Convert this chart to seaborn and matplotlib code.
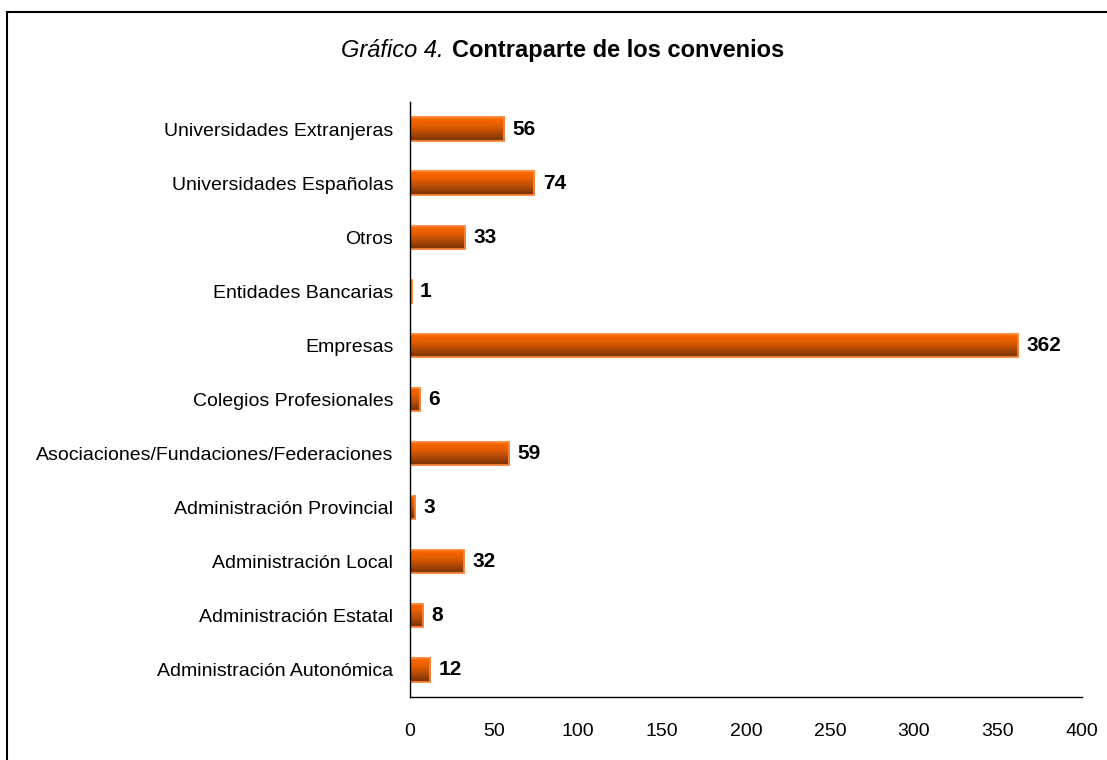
import numpy as np
import pandas as pd
import matplotlib
matplotlib.use("Agg")
import matplotlib.pyplot as plt
import seaborn as sns
from matplotlib.patches import Rectangle

# data (top to bottom as in the chart)
categories = [
    "Universidades Extranjeras",
    "Universidades Españolas",
    "Otros",
    "Entidades Bancarias",
    "Empresas",
    "Colegios Profesionales",
    "Asociaciones/Fundaciones/Federaciones",
    "Administración Provincial",
    "Administración Local",
    "Administración Estatal",
    "Administración Autonómica",
]
values = [56, 74, 33, 1, 362, 6, 59, 3, 32, 8, 12]
x_ticks = [0, 50, 100, 150, 200, 250, 300, 350, 400]

sns.set_style("white")
plt.rcParams["font.family"] = ["Liberation Sans", "DejaVu Sans"]
plt.rcParams["text.color"] = "black"
plt.rcParams["xtick.color"] = "black"
plt.rcParams["ytick.color"] = "black"

df = pd.DataFrame({"contraparte": categories, "convenios": values})

fig = plt.figure(figsize=(11.07, 7.6), dpi=100)
ax = fig.add_axes([0.3704, 0.0829, 0.607, 0.7829])

sns.barplot(data=df, x="convenios", y="contraparte", color="#FF6600",
            width=0.43, edgecolor="#FF8C40", linewidth=1.2, ax=ax)

# vertical gradient fill on each bar: bright orange on top, dark brown below
cmap = matplotlib.colors.LinearSegmentedColormap.from_list(
    "bar", ["#FF6A00", "#E85E00", "#B04A08", "#7A3000"])
grad = np.linspace(0, 1, 64).reshape(-1, 1)
for p in ax.patches:
    x0, y0 = p.get_x(), p.get_y()
    w, h = p.get_width(), p.get_height()
    if w <= 0:
        continue
    im = ax.imshow(grad, cmap=cmap, aspect="auto", origin="upper",
                   extent=[x0, x0 + w, y0 + h, y0], zorder=p.get_zorder() + 0.1,
                   interpolation="bilinear")
    im.set_clip_path(p)
    ax.add_patch(Rectangle((x0, y0), w, h, fill=False, edgecolor="#FF8C40",
                           linewidth=1.2, zorder=p.get_zorder() + 0.2))

for i, v in enumerate(values):
    ax.text(v + 5, i, str(v), va="center", ha="left", fontsize=15,
            fontweight="bold", color="black")

ax.set_xlim(0, 400)
ax.set_ylim(len(categories) - 0.5, -0.5)
ax.set_xticks(x_ticks)
ax.set_xticklabels([str(t) for t in x_ticks], fontsize=14)
ax.set_yticks(range(len(categories)))
ax.set_yticklabels(categories, fontsize=14)
ax.set_xlabel("")
ax.set_ylabel("")

# y ticks sit between categories, both axes ticks point outward
ax.set_yticks(np.arange(-0.5, len(categories), 1), minor=True)
ax.tick_params(axis="y", which="major", length=0, pad=12)
ax.tick_params(axis="y", which="minor", length=6, width=1, color="black", direction="out")
ax.tick_params(axis="x", length=6, width=1, color="black", direction="out", pad=13)

for s in ["top", "right"]:
    ax.spines[s].set_visible(False)
for s in ["left", "bottom"]:
    ax.spines[s].set_color("black")
    ax.spines[s].set_linewidth(1)

# title: italic part + bold part
fig.text(0.401, 0.934, "Gráfico 4.", ha="right", va="center",
         fontsize=17, style="italic")
fig.text(0.408, 0.934, "Contraparte de los convenios", ha="left", va="center",
         fontsize=17, fontweight="bold")

# outer frame
fig.patches.append(Rectangle((7 / 1107, -0.1), 1.2, 0.984 + 0.1, fill=False,
                             edgecolor="black", linewidth=1.5,
                             transform=fig.transFigure, figure=fig))

fig.savefig("out.png", dpi=100)
